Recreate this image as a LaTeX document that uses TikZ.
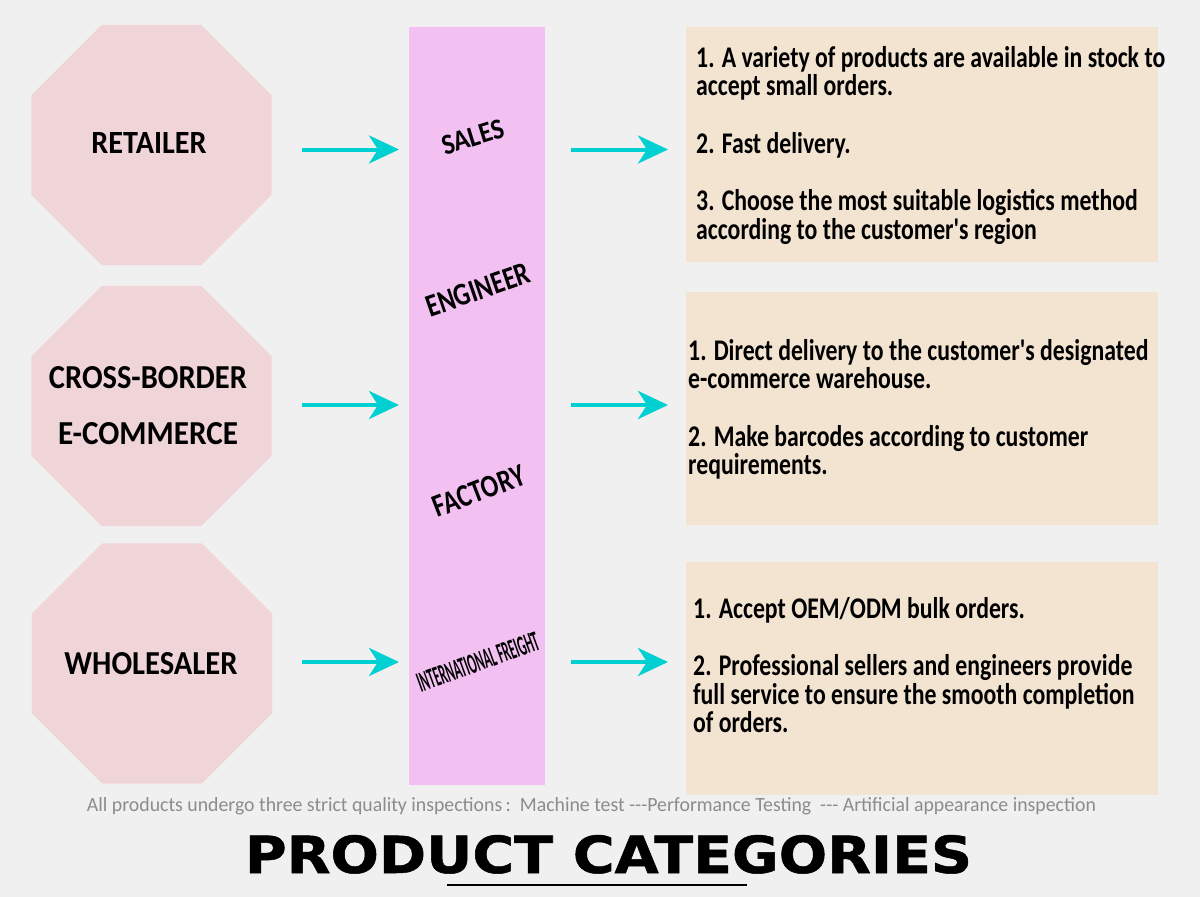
\documentclass[tikz,border=0pt]{standalone}
\usepackage{fontspec}
\usepackage{graphicx}
\usetikzlibrary{arrows.meta,shapes.geometric}
\setmainfont{Carlito}
\newfontfamily\bodyfont{Carlito}
\newfontfamily\notefont{Carlito}
\newfontfamily\titlefont[UprightFont={* Bold},FakeBold=1]{DejaVu Sans}
\definecolor{bgc}{RGB}{240,240,240}
\definecolor{octc}{RGB}{240,213,216}
\definecolor{colc}{RGB}{242,193,242}
\definecolor{boxc}{RGB}{243,228,210}
\definecolor{arrc}{RGB}{0,208,210}
\definecolor{notec}{RGB}{140,140,140}
\newsavebox\measurebox
\newlength\measurelen
\tikzset{
  octo/.style={regular polygon, regular polygon sides=8, minimum size=260pt, fill=octc, inner sep=0pt},
  octlabel/.style={inner sep=0pt, align=center, font=\bodyfont\bfseries\fontsize{30}{56}\selectfont},
  colbox/.style={rectangle, fill=colc, minimum width=136pt, minimum height=758pt, inner sep=0pt},
  infobox/.style={rectangle, fill=boxc, minimum width=472pt, inner sep=0pt},
  infotext/.style={anchor=base west, inner sep=0pt, font=\bodyfont\bfseries\fontsize{30}{28.7}\selectfont},
  tilted/.style={inner sep=0pt, font=\bodyfont\bfseries\fontsize{28}{30}\selectfont},
  flow/.style={draw=arrc, line width=4pt, -{Stealth[length=30pt,width=28pt,inset=9pt]}},
}
\begin{document}
\sbox\measurebox{\bodyfont\bfseries\fontsize{30}{28.7}\selectfont 1. A variety of products are available in stock to}%
\setlength\measurelen{\wd\measurebox}%
\pgfmathsetmacro\bodyscale{469/\measurelen}%
\begin{tikzpicture}[x=1pt,y=-1pt]
\useasboundingbox[fill=bgc] (0,0) rectangle (1200,897);

% octagons
\node[octo] (oct1) at (151.5,145) {};
\node[octo] (oct2) at (151.5,406) {};
\node[octo] (oct3) at (152,663.5) {};
\node[octlabel] (lab1) at (149,143) {\resizebox{115pt}{21pt}{RETAILER}};
\node[octlabel] (lab2) at (148,406) {\resizebox{198pt}{22pt}{CROSS-BORDER}\\\resizebox{180pt}{22pt}{E-COMMERCE}};
\node[octlabel] (lab3) at (151,664) {\resizebox{173pt}{22pt}{WHOLESALER}};

% central column
\node[colbox] (col) at (477,406) {};
\node[tilted, rotate=17] (sales) at (473,137) {\resizebox{64pt}{19pt}{SALES}};
\node[tilted, rotate=19] (eng) at (478,290) {\resizebox{108pt}{21pt}{ENGINEER}};
\node[tilted, rotate=21] (fac) at (479,491) {\resizebox{96pt}{21pt}{FACTORY}};
\node[tilted, rotate=20] (intl) at (478,662) {\resizebox{128pt}{19pt}{INTERNATIONAL FREIGHT}};

% info boxes
\node[infobox, minimum height=235pt] (box1) at (922,144.5) {};
\node[infobox, minimum height=233pt] (box2) at (922,408.5) {};
\node[infobox, minimum height=233pt] (box3) at (922,678.5) {};

\node[infotext] (t1) at (696,67) {\scalebox{\bodyscale}[1]{\parbox[t]{600pt}{\raggedright
1. A variety of products are available in stock to\\
accept small orders.\\[28.7pt]
2. Fast delivery.\\[28.7pt]
3. Choose the most suitable logistics method\\
according to the customer's region}}};
\node[infotext] (t2) at (688,360) {\scalebox{\bodyscale}[1]{\parbox[t]{600pt}{\raggedright
1. Direct delivery to the customer's designated\\
e-commerce warehouse.\\[28.7pt]
2. Make barcodes according to customer\\
requirements.}}};
\node[infotext] (t3) at (693,618) {\scalebox{\bodyscale}[1]{\parbox[t]{600pt}{\raggedright
1. Accept OEM/ODM bulk orders.\\[28.7pt]
2. Professional sellers and engineers provide\\
full service to ensure the smooth completion\\
of orders.}}};

% arrow end points
\coordinate (l1a) at (302,149.5); \coordinate (l1b) at (399,149.5);
\coordinate (r1a) at (571,149.5); \coordinate (r1b) at (668,149.5);
\coordinate (l2a) at (302,405); \coordinate (l2b) at (399,405);
\coordinate (r2a) at (571,405); \coordinate (r2b) at (668,405);
\coordinate (l3a) at (302,662); \coordinate (l3b) at (399,662);
\coordinate (r3a) at (571,662); \coordinate (r3b) at (668,662);
\draw[flow] (l1a) -- (l1b);
\draw[flow] (r1a) -- (r1b);
\draw[flow] (l2a) -- (l2b);
\draw[flow] (r2a) -- (r2b);
\draw[flow] (l3a) -- (l3b);
\draw[flow] (r3a) -- (r3b);

% footnote
\node[inner sep=0pt, text=notec, anchor=base] (note) at (591.5,811) {\resizebox{1009pt}{14pt}{\notefont\fontsize{20}{22}\selectfont All products undergo three strict quality inspections\,:\ \ Machine test -{}-{}-Performance Testing\ \ -{}-{}- Artificial appearance inspection}};

% title
\node[inner sep=0pt, anchor=base] (title) at (608.5,873) {\resizebox{727pt}{38pt}{\titlefont PRODUCT CATEGORIES}};
\coordinate (ula) at (447,885); \coordinate (ulb) at (747,885);
\draw[line width=1.5pt] (ula) -- (ulb);
\end{tikzpicture}
\end{document}
